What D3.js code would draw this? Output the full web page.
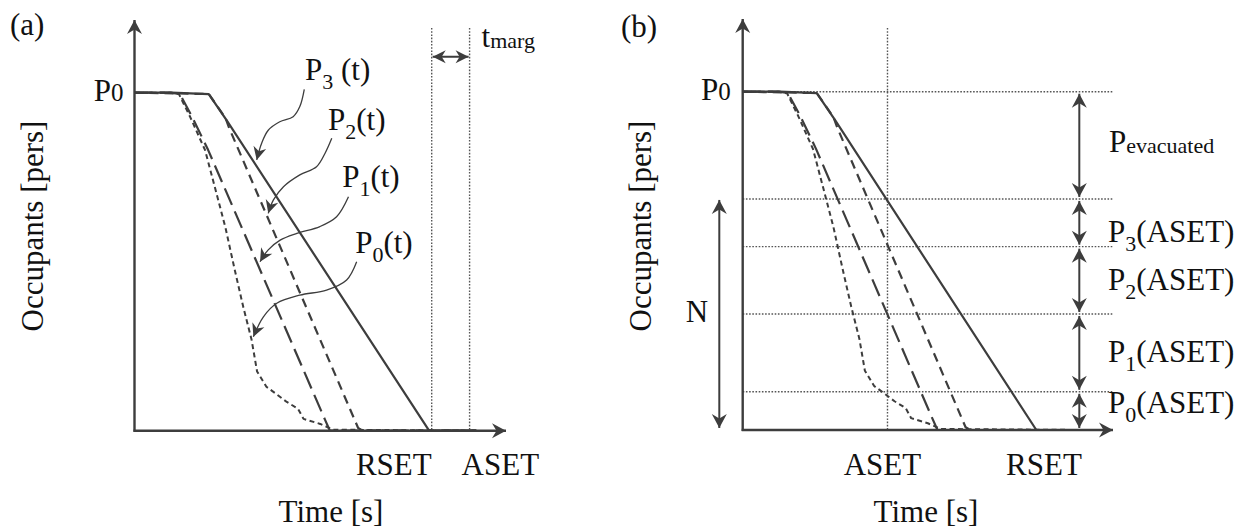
<!DOCTYPE html>
<html><head><meta charset="utf-8">
<script src="https://cdn.jsdelivr.net/npm/d3@7"></script>
<style>
html,body{margin:0;padding:0;background:#fff;}
svg{display:block;}
</style></head><body>
<svg id="chart" width="1251" height="529"></svg>
<script>
// ---- data (time units 0..100, occupants 0..100 where 100 = P0) ----
const curveP3 = [[0,100],[10,100],[20,99.6],[25,91.5],[79.3,0],[92,0]];
const curveP2 = [[0,100],[20,99.6],[24.5,92.5],[25.5,89.5],[60.2,0.8],[61.5,0],[92,0]];
const curveP1 = [[0,100],[9.6,100],[12.2,99.6],[15.5,92.9],[19.8,83.1],[51.3,3.2],[52.6,0],[92,0]];
const curveP0 = [[0,100],[10,100],[12,99.5],[15,92.8],[19,83],[22,70.5],[24.5,60],[27,47.5],[29.3,36.5],[31.5,27],[33,17.5],[35.5,13],[38,11],[41,8.5],[44,6.5],[45.5,3.5],[50,2],[53.5,0.3],[92,0]];
const seriesNames = ["P3","P2","P1","P0"];
const timeRSET = 80;
const timeASETa = 90.2;
const timeASETb = 39.1;
const levelP0 = 100;
const levelsAtASET = [68.3, 54.2, 34.3, 11.3];   // P3, P2, P1, P0 at ASET
const levelLabels = ["3","2","1","0"];
const axisTop = 121.5;
const axisRight = 100;
// leader lines of panel (a), in data units
const leaderP3 = [[45.7,101.0],[44.5,95.9],[42.7,92.9],[39.1,91.4],[36.0,88.9],[34.2,85.0],[32.9,80.1]];
const leaderP2 = [[53.1,86.5],[51.3,82.1],[49.0,78.1],[44.5,75.7],[40.1,72.2],[37.4,68.3],[36.0,64.3]];
const leaderP1 = [[57.6,69.2],[54.4,63.3],[49.9,60.4],[43.7,58.4],[39.2,56.4],[36.0,53.5],[33.8,50.0]];
const leaderP0 = [[59.8,50.0],[57.1,44.6],[51.7,41.6],[44.5,40.1],[38.3,37.7],[34.7,33.7],[32.0,27.8]];
const labelAnchors = [[45.9,103.7],[52.1,88.9],[55.9,72.1],[59.4,52.6]];
const labelSep = [" ", "", "", ""];

const FONT = "'Liberation Serif', Tinos, 'Times New Roman', Times, 'Nimbus Roman', 'Nimbus Roman No9 L', FreeSerif, 'DejaVu Serif', serif";
const INK = "#3d3d3d";
const svg = d3.select("#chart");
const defs = svg.append("defs");
defs.append("marker").attr("id","ah")
  .attr("viewBox","-15 -8 16 16").attr("refX",0).attr("refY",0)
  .attr("markerWidth",16).attr("markerHeight",16)
  .attr("markerUnits","userSpaceOnUse").attr("orient","auto-start-reverse")
  .append("path").attr("d","M0,0 L-14,-7.5 L-9.5,0 L-14,7.5 Z").attr("fill",INK);
defs.append("marker").attr("id","ahs")
  .attr("viewBox","-15 -8 16 16").attr("refX",0).attr("refY",0)
  .attr("markerWidth",16).attr("markerHeight",16)
  .attr("markerUnits","userSpaceOnUse").attr("orient","auto-start-reverse")
  .append("path").attr("d","M0,0 L-13,-6.5 L-9,0 L-13,6.5 Z").attr("fill",INK);

const curves = [
  {data: curveP3, dash: null, w: 2.2},
  {data: curveP2, dash: "9,6", w: 2.2},
  {data: curveP1, dash: "18,7", w: 2.2},
  {data: curveP0, dash: "5,3.5", w: 2.0}
];

function makePanel(xr, yr) {
  const x = d3.scaleLinear().domain([0,100]).range(xr);
  const y = d3.scaleLinear().domain([0,100]).range(yr);
  return {x, y};
}
function txt(g, px, py, size) {
  return g.append("text").attr("x",px).attr("y",py).attr("font-size",size)
    .attr("font-family",FONT).attr("fill","#111");
}
function dotted(g, x1, y1, x2, y2) {
  g.append("line").attr("x1",x1).attr("y1",y1).attr("x2",x2).attr("y2",y2)
   .attr("stroke","#555").attr("stroke-width",1.4).attr("stroke-dasharray","1.6,1.6");
}
function drawCurves(g, x, y) {
  const line = d3.line().x(d => x(d[0])).y(d => y(d[1]));
  curves.forEach(c => {
    g.append("path").datum(c.data).attr("d", line)
      .attr("fill","none").attr("stroke",INK).attr("stroke-width",c.w)
      .attr("stroke-dasharray", c.dash).attr("stroke-linejoin","round");
  });
}
function drawAxes(g, x, y) {
  g.append("line").attr("x1",x(0)).attr("y1",y(0)+1).attr("x2",x(0)).attr("y2",y(axisTop))
    .attr("stroke",INK).attr("stroke-width",2.4).attr("marker-end","url(#ah)");
  g.append("line").attr("x1",x(0)-1).attr("y1",y(0)).attr("x2",x(axisRight)).attr("y2",y(0))
    .attr("stroke",INK).attr("stroke-width",2.6).attr("marker-end","url(#ah)");
}
function pLabel(g, px, py, sub, rest, subSize, subDy) {
  const t = txt(g, px, py, 31);
  t.append("tspan").text("P");
  t.append("tspan").attr("font-size",subSize).attr("dy",subDy).text(sub);
  if (rest) t.append("tspan").attr("dy",-subDy).text(rest);
  return t;
}
function yLabel(g, px, py) {
  g.append("text").attr("transform",`translate(${px},${py}) rotate(-90)`)
    .attr("font-family",FONT).attr("fill","#111")
    .attr("text-anchor","middle").attr("font-size",31).text("Occupants [pers]");
}
function dblArrow(g, xx, y1, y2, mk) {
  g.append("line").attr("x1",xx).attr("y1",y1).attr("x2",xx).attr("y2",y2)
    .attr("stroke",INK).attr("stroke-width",2)
    .attr("marker-start",`url(#${mk})`).attr("marker-end",`url(#${mk})`);
}

// ================= panel (a) =================
{
  const {x, y} = makePanel([134.5, 506], [430.7, 92.7]);
  const g = svg.append("g");
  dotted(g, x(timeRSET), 28, x(timeRSET), y(0));
  dotted(g, x(timeASETa), 28, x(timeASETa), y(0));
  drawCurves(g, x, y);
  drawAxes(g, x, y);
  g.append("line").attr("x1",x(timeRSET)+1).attr("y1",56.7).attr("x2",x(timeASETa)-1).attr("y2",56.7)
    .attr("stroke",INK).attr("stroke-width",2)
    .attr("marker-start","url(#ahs)").attr("marker-end","url(#ahs)");
  const tm = txt(g, x(timeASETa)+12, 47, 31);
  tm.append("tspan").text("t");
  tm.append("tspan").attr("font-size",22).attr("dy",1).text("marg");
  const lline = d3.line().x(d => x(d[0])).y(d => y(d[1])).curve(d3.curveCatmullRom);
  [leaderP3, leaderP2, leaderP1, leaderP0].forEach(L => {
    g.append("path").datum(L).attr("d", lline).attr("fill","none")
      .attr("stroke",INK).attr("stroke-width",1.3).attr("marker-end","url(#ahs)");
  });
  labelAnchors.forEach((a, i) => {
    pLabel(g, x(a[0]), y(a[1]), levelLabels[i], labelSep[i] + "(t)", 22, 9);
  });
  const p0 = txt(g, x(0)-11, y(levelP0)+8, 31).attr("text-anchor","end");
  p0.append("tspan").text("P"); p0.append("tspan").attr("font-size",25).text("0");
  txt(g, 10, 35, 31).text("(a)");
  txt(g, x(timeRSET), 475, 31).attr("text-anchor","end").text("RSET");
  txt(g, x(timeASETa)-8, 475, 31).text("ASET");
  txt(g, 331, 522, 31).attr("text-anchor","middle").text("Time [s]");
  yLabel(g, 43, 226);
}

// ================= panel (b) =================
{
  const {x, y} = makePanel([742.7, 1113], [430, 91.7]);
  const g = svg.append("g");
  dotted(g, x(timeASETb), 28, x(timeASETb), y(0));
  [levelP0].concat(levelsAtASET).forEach(v => dotted(g, x(0), y(v), x(100), y(v)));
  drawCurves(g, x, y);
  drawAxes(g, x, y);
  const xr = x(90.9);
  const bounds = [levelP0].concat(levelsAtASET).concat([0]);
  for (let i = 0; i < bounds.length - 1; i++) {
    dblArrow(g, xr, y(bounds[i]) + 2, y(bounds[i+1]) - 2, "ah");
  }
  dblArrow(g, x(0) - 23.4, y(levelsAtASET[0]) + 1, y(0) - 2, "ah");
  txt(g, 697, 322, 31).attr("text-anchor","middle").text("N");
  const ev = txt(g, 1109, 152, 31);
  ev.append("tspan").text("P"); ev.append("tspan").attr("font-size",22).attr("dy",1).text("evacuated");
  const mids = [242, 290, 362, 413];
  levelLabels.forEach((s, i) => pLabel(g, 1108, mids[i], s, "(ASET)", 22, 9));
  const p0 = txt(g, x(0)-12, y(levelP0)+8, 31).attr("text-anchor","end");
  p0.append("tspan").text("P"); p0.append("tspan").attr("font-size",25).text("0");
  txt(g, 621, 37, 31).text("(b)");
  txt(g, x(timeASETb)-5, 475, 31).attr("text-anchor","middle").text("ASET");
  txt(g, x(timeRSET)+5, 475, 31).attr("text-anchor","middle").text("RSET");
  txt(g, 926, 522, 31).attr("text-anchor","middle").text("Time [s]");
  yLabel(g, 651, 226);
}
</script>
</body></html>
